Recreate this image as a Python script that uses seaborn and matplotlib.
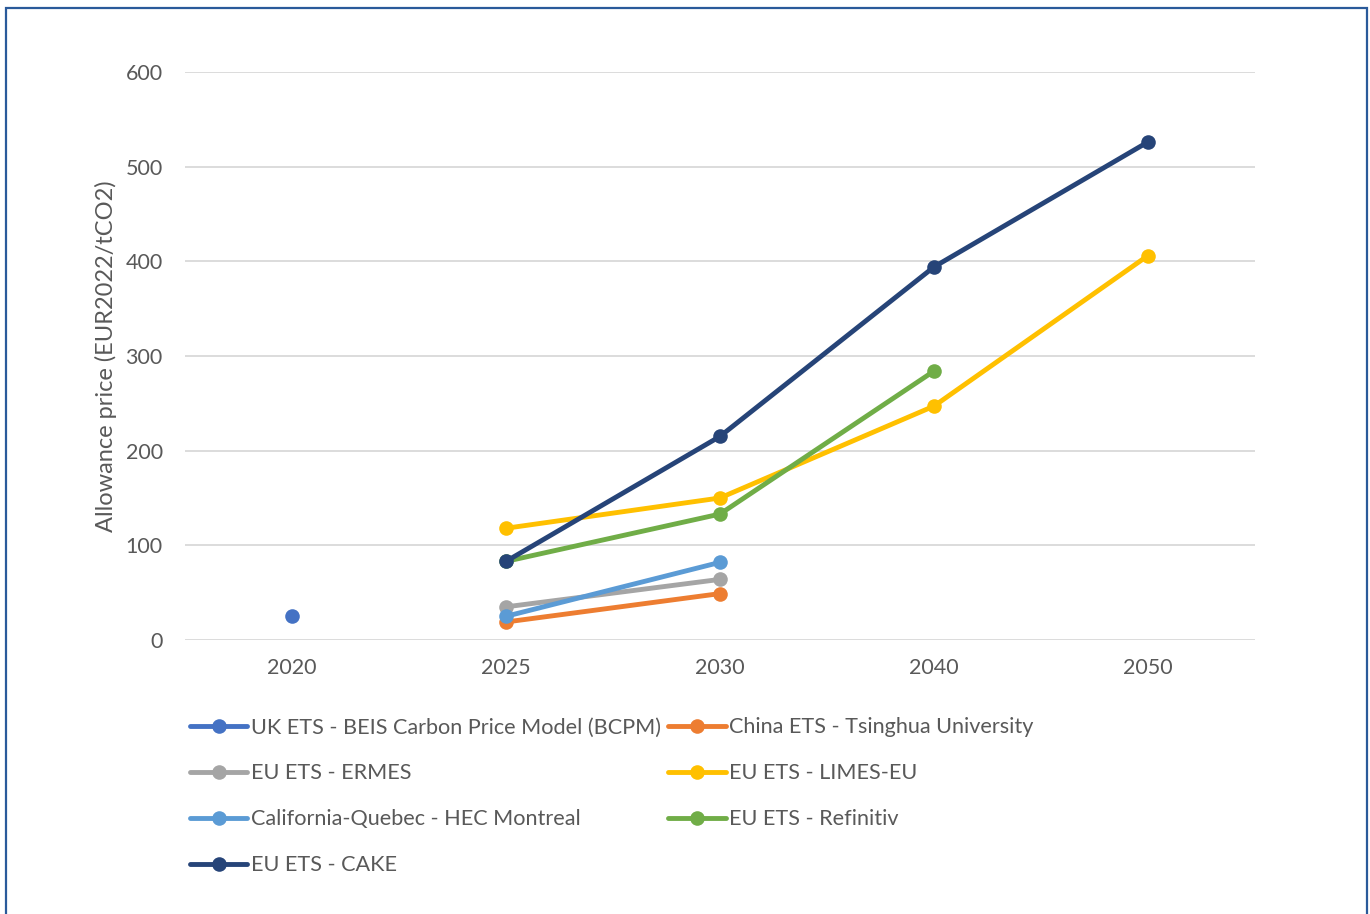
import numpy as np
import pandas as pd
import matplotlib
matplotlib.use("Agg")
import matplotlib.pyplot as plt
import matplotlib.patches as patches
import seaborn as sns

# categorias do eixo x
anos = ["2020", "2025", "2030", "2040", "2050"]

# séries (ano -> preço EUR2022/tCO2)
uk_bcpm_anos = ["2020"]
uk_bcpm = [25]
china_anos = ["2025", "2030"]
china = [19, 49]
ermes_anos = ["2025", "2030"]
ermes = [35, 64]
limes_anos = ["2025", "2030", "2040", "2050"]
limes = [118, 150, 247, 406]
hec_anos = ["2025", "2030"]
hec = [25, 82]
refinitiv_anos = ["2025", "2030", "2040"]
refinitiv = [83, 133, 284]
cake_anos = ["2025", "2030", "2040", "2050"]
cake = [83, 215, 394, 526]

series = [
    ("UK ETS - BEIS Carbon Price Model (BCPM)", uk_bcpm_anos, uk_bcpm, "#4472C4"),
    ("China ETS - Tsinghua University", china_anos, china, "#ED7D31"),
    ("EU ETS - ERMES", ermes_anos, ermes, "#A5A5A5"),
    ("EU ETS - LIMES-EU", limes_anos, limes, "#FFC000"),
    ("California-Quebec - HEC Montreal", hec_anos, hec, "#5B9BD5"),
    ("EU ETS - Refinitiv", refinitiv_anos, refinitiv, "#70AD47"),
    ("EU ETS - CAKE", cake_anos, cake, "#264478"),
]

sns.set_style("white")
plt.rcParams["font.family"] = ["Lato", "DejaVu Sans"]

fig = plt.figure(figsize=(13.7, 9.14), dpi=100)
ax = fig.add_axes([0.135, 0.2998, 0.781, 0.6215])

texto = "#595959"
handles = {}
for nome, xs, ys, cor in series:
    df = pd.DataFrame({"x": [anos.index(a) for a in xs], "y": ys})
    sns.lineplot(data=df, x="x", y="y", ax=ax, color=cor, linewidth=3.5,
                 marker="o", markersize=10.5, markeredgewidth=0, clip_on=False,
                 zorder=3)
    handles[nome] = ax.lines[-1]

ax.set_xlim(-0.5, len(anos) - 0.5)
ax.set_ylim(0, 600)
ax.set_xticks(range(len(anos)))
ax.set_xticklabels(anos)
ax.set_yticks(np.arange(0, 601, 100))
ax.tick_params(axis="both", length=0, labelsize=15.5, colors=texto)
ax.tick_params(axis="x", pad=13)
ax.tick_params(axis="y", pad=16)
ax.yaxis.grid(True, color="#D9D9D9", linewidth=1.3)
ax.xaxis.grid(False)
for s in ax.spines.values():
    s.set_visible(False)
ax.set_xlabel("")
ax.set_ylabel("Allowance price (EUR2022/tCO2)", fontsize=17, color=texto, labelpad=6)

# legenda em duas colunas, preenchida por linhas
ordem = [0, 2, 4, 6, 1, 3, 5]
nomes = [series[i][0] for i in ordem]
leg = fig.legend([handles[n] for n in nomes], nomes, ncol=2, loc="upper left",
                 bbox_to_anchor=(0.1387, 0.215), frameon=False, fontsize=15.6,
                 handlelength=2.65, handletextpad=0.15, columnspacing=0.35,
                 labelspacing=1.2, borderaxespad=0, borderpad=0)
for t in leg.get_texts():
    t.set_color(texto)

# moldura azul da figura
fig.patches.append(patches.Rectangle((0.0045, -0.01), 0.993, 1.001,
                                     transform=fig.transFigure, fill=False,
                                     edgecolor="#2A5A9A", linewidth=1.6))

fig.savefig("out.png", dpi=100)
